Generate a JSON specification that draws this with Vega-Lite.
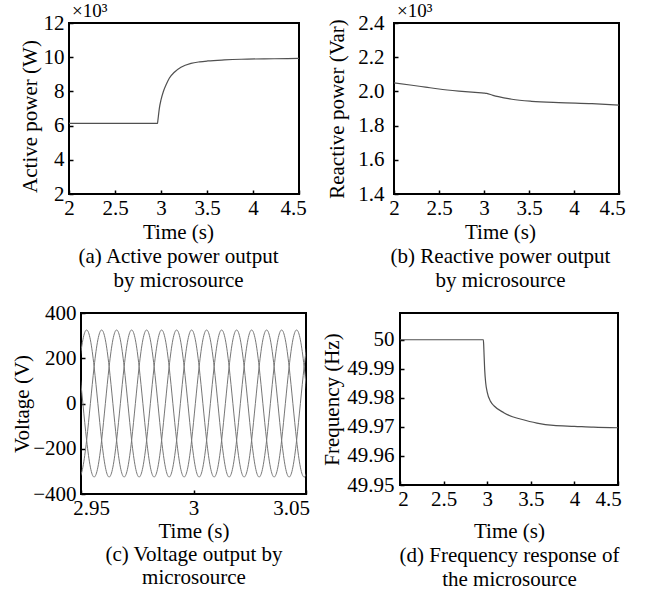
{
  "$schema": "https://vega.github.io/schema/vega-lite/v6.json",
  "padding": {"left": 0, "top": 1, "right": 5, "bottom": 4},
  "background": "white",
  "spacing": 10,
  "config": {
    "font": "Liberation Serif",
    "view": {"stroke": "black", "strokeWidth": 2},
    "axis": {"domain": false, "grid": false, "ticks": true, "tickColor": "black", "tickWidth": 1.5, "tickSize": -4,
      "labelFont": "Liberation Serif", "labelFontSize": 21, "labelColor": "black", "labelPadding": 7, "labelOverlap": false, "labelFlush": false,
      "titleFont": "Liberation Serif", "titleFontSize": 21, "titleFontWeight": "normal", "titleColor": "black", "titlePadding": 3},
    "axisY": {"labelPadding": 9},
    "title": {"font": "Liberation Serif", "fontSize": 19, "fontWeight": "normal", "color": "black", "anchor": "start", "frame": "group", "offset": -9}
  },
  "vconcat": [
    {
      "spacing": 17,
      "hconcat": [
        {"width": 1, "height": 1, "data": {"values": []}, "mark": "point", "view": {"stroke": null}},
        {
          "width": 230, "height": 171,
          "title": {"text": "×10³", "dx": 3},
          "data": {"values": [
            {"t": 2, "p": 6.13}, {"t": 2.5, "p": 6.13}, {"t": 2.962, "p": 6.13}, {"t": 2.966, "p": 6.3},
            {"t": 2.971, "p": 6.52}, {"t": 2.982, "p": 7.01}, {"t": 3.0, "p": 7.5}, {"t": 3.025, "p": 7.98},
            {"t": 3.054, "p": 8.37}, {"t": 3.09, "p": 8.77}, {"t": 3.145, "p": 9.12}, {"t": 3.217, "p": 9.41},
            {"t": 3.326, "p": 9.64}, {"t": 3.42, "p": 9.73}, {"t": 3.508, "p": 9.78}, {"t": 3.688, "p": 9.84},
            {"t": 3.87, "p": 9.88}, {"t": 4.232, "p": 9.91}, {"t": 4.5, "p": 9.93}
          ]},
          "mark": {"type": "line", "interpolate": "monotone", "color": "#505050", "strokeWidth": 1.2},
          "encoding": {
            "x": {"field": "t", "type": "quantitative", "scale": {"domain": [2, 4.5], "nice": false, "zero": false},
              "axis": {"values": [2, 2.5, 3, 3.5, 4, 4.5], "format": "~g",
                "labelOffset": {"condition": {"test": "datum.value == 4.5", "value": -6}, "value": 0},
                "title": ["Time (s)", "(a) Active power output", "by microsource"], "titleLineHeight": 24, "titleX": 109}},
            "y": {"field": "p", "type": "quantitative", "scale": {"domain": [2, 12], "nice": false, "zero": false},
              "axis": {"values": [2, 4, 6, 8, 10, 12], "title": "Active power (W)", "titlePadding": 3, "titleY": 93}}
          }
        },
        {
          "width": 225, "height": 171,
          "title": {"text": "×10³", "dx": 3},
          "data": {"values": [
            {"t": 2, "q": 2.05}, {"t": 2.2, "q": 2.036}, {"t": 2.35, "q": 2.025}, {"t": 2.5, "q": 2.014},
            {"t": 2.72, "q": 2.002}, {"t": 2.9, "q": 1.994}, {"t": 3.0, "q": 1.99}, {"t": 3.03, "q": 1.988},
            {"t": 3.1, "q": 1.977}, {"t": 3.16, "q": 1.969}, {"t": 3.31, "q": 1.954}, {"t": 3.53, "q": 1.942},
            {"t": 3.83, "q": 1.934}, {"t": 4.2, "q": 1.928}, {"t": 4.5, "q": 1.92}
          ]},
          "mark": {"type": "line", "interpolate": "monotone", "color": "#505050", "strokeWidth": 1.2},
          "encoding": {
            "x": {"field": "t", "type": "quantitative", "scale": {"domain": [2, 4.5], "nice": false, "zero": false},
              "axis": {"values": [2, 2.5, 3, 3.5, 4, 4.5], "format": "~g",
                "labelOffset": {"condition": {"test": "datum.value == 4.5", "value": -7}, "value": 0},
                "title": ["Time (s)", "(b) Reactive power output", "by microsource"], "titleLineHeight": 24, "titleX": 106}},
            "y": {"field": "q", "type": "quantitative", "scale": {"domain": [1.4, 2.4], "nice": false, "zero": false},
              "axis": {"values": [1.4, 1.6, 1.8, 2.0, 2.2, 2.4], "format": ".1f", "labelPadding": 14, "title": "Reactive power (Var)", "titlePadding": 10}}
          }
        }
      ]
    },
    {
      "spacing": 9,
      "hconcat": [
        {"width": 1, "height": 1, "data": {"values": []}, "mark": "point", "view": {"stroke": null}},
        {
          "width": 225, "height": 181,
          "data": {"values": [
            {"t": 2.9475, "a": 0, "b": -281.5, "c": 281.5},
            {"t": 2.94917, "a": 162.5, "b": -325, "c": 162.5},
            {"t": 2.95083, "a": 281.5, "b": -281.5, "c": 0},
            {"t": 2.9525, "a": 325, "b": -162.5, "c": -162.5},
            {"t": 2.95417, "a": 281.5, "b": 0, "c": -281.5},
            {"t": 2.95583, "a": 162.5, "b": 162.5, "c": -325},
            {"t": 2.9575, "a": 0, "b": 281.5, "c": -281.5},
            {"t": 2.95917, "a": -162.5, "b": 325, "c": -162.5},
            {"t": 2.96083, "a": -281.5, "b": 281.5, "c": 0},
            {"t": 2.9625, "a": -325, "b": 162.5, "c": 162.5},
            {"t": 2.96417, "a": -281.5, "b": 0, "c": 281.5},
            {"t": 2.96583, "a": -162.5, "b": -162.5, "c": 325},
            {"t": 2.9675, "a": 0, "b": -281.5, "c": 281.5},
            {"t": 2.96917, "a": 162.5, "b": -325, "c": 162.5},
            {"t": 2.97083, "a": 281.5, "b": -281.5, "c": 0},
            {"t": 2.9725, "a": 325, "b": -162.5, "c": -162.5},
            {"t": 2.97417, "a": 281.5, "b": 0, "c": -281.5},
            {"t": 2.97583, "a": 162.5, "b": 162.5, "c": -325},
            {"t": 2.9775, "a": 0, "b": 281.5, "c": -281.5},
            {"t": 2.97917, "a": -162.5, "b": 325, "c": -162.5},
            {"t": 2.98083, "a": -281.5, "b": 281.5, "c": 0},
            {"t": 2.9825, "a": -325, "b": 162.5, "c": 162.5},
            {"t": 2.98417, "a": -281.5, "b": 0, "c": 281.5},
            {"t": 2.98583, "a": -162.5, "b": -162.5, "c": 325},
            {"t": 2.9875, "a": 0, "b": -281.5, "c": 281.5},
            {"t": 2.98917, "a": 162.5, "b": -325, "c": 162.5},
            {"t": 2.99083, "a": 281.5, "b": -281.5, "c": 0},
            {"t": 2.9925, "a": 325, "b": -162.5, "c": -162.5},
            {"t": 2.99417, "a": 281.5, "b": 0, "c": -281.5},
            {"t": 2.99583, "a": 162.5, "b": 162.5, "c": -325},
            {"t": 2.9975, "a": 0, "b": 281.5, "c": -281.5},
            {"t": 2.99917, "a": -162.5, "b": 325, "c": -162.5},
            {"t": 3.00083, "a": -281.5, "b": 281.5, "c": 0},
            {"t": 3.0025, "a": -325, "b": 162.5, "c": 162.5},
            {"t": 3.00417, "a": -281.5, "b": 0, "c": 281.5},
            {"t": 3.00583, "a": -162.5, "b": -162.5, "c": 325},
            {"t": 3.0075, "a": 0, "b": -281.5, "c": 281.5},
            {"t": 3.00917, "a": 162.5, "b": -325, "c": 162.5},
            {"t": 3.01083, "a": 281.5, "b": -281.5, "c": 0},
            {"t": 3.0125, "a": 325, "b": -162.5, "c": -162.5},
            {"t": 3.01417, "a": 281.5, "b": 0, "c": -281.5},
            {"t": 3.01583, "a": 162.5, "b": 162.5, "c": -325},
            {"t": 3.0175, "a": 0, "b": 281.5, "c": -281.5},
            {"t": 3.01917, "a": -162.5, "b": 325, "c": -162.5},
            {"t": 3.02083, "a": -281.5, "b": 281.5, "c": 0},
            {"t": 3.0225, "a": -325, "b": 162.5, "c": 162.5},
            {"t": 3.02417, "a": -281.5, "b": 0, "c": 281.5},
            {"t": 3.02583, "a": -162.5, "b": -162.5, "c": 325},
            {"t": 3.0275, "a": 0, "b": -281.5, "c": 281.5},
            {"t": 3.02917, "a": 162.5, "b": -325, "c": 162.5},
            {"t": 3.03083, "a": 281.5, "b": -281.5, "c": 0},
            {"t": 3.0325, "a": 325, "b": -162.5, "c": -162.5},
            {"t": 3.03417, "a": 281.5, "b": 0, "c": -281.5},
            {"t": 3.03583, "a": 162.5, "b": 162.5, "c": -325},
            {"t": 3.0375, "a": 0, "b": 281.5, "c": -281.5},
            {"t": 3.03917, "a": -162.5, "b": 325, "c": -162.5},
            {"t": 3.04083, "a": -281.5, "b": 281.5, "c": 0},
            {"t": 3.0425, "a": -325, "b": 162.5, "c": 162.5},
            {"t": 3.04417, "a": -281.5, "b": 0, "c": 281.5},
            {"t": 3.04583, "a": -162.5, "b": -162.5, "c": 325},
            {"t": 3.0475, "a": 0, "b": -281.5, "c": 281.5},
            {"t": 3.04917, "a": 162.5, "b": -325, "c": 162.5},
            {"t": 3.05083, "a": 281.5, "b": -281.5, "c": 0},
            {"t": 3.0525, "a": 325, "b": -162.5, "c": -162.5}
          ]},
          "transform": [{"fold": ["a", "b", "c"], "as": ["phase", "v"]}],
          "mark": {"type": "line", "interpolate": "natural", "color": "#777777", "strokeWidth": 1, "clip": true},
          "encoding": {
            "x": {"field": "t", "type": "quantitative", "scale": {"domain": [2.95, 3.05], "nice": false, "zero": false},
              "axis": {"values": [2.95, 3, 3.05], "format": "~g",
                "labelOffset": {"condition": [{"test": "datum.value < 2.99", "value": 10}, {"test": "datum.value > 3.01", "value": -15}], "value": 0},
                "title": ["Time (s)", "(c) Voltage output by", "microsource"], "titleLineHeight": 23, "titlePadding": 2}},
            "y": {"field": "v", "type": "quantitative", "scale": {"domain": [-400, 400], "nice": false, "zero": false},
              "axis": {"values": [-400, -200, 0, 200, 400], "title": "Voltage (V)", "titlePadding": 0}},
            "detail": {"field": "phase"}
          }
        },
        {
          "width": 218, "height": 172,
          "data": {"values": [
            {"t": 2, "f": 50}, {"t": 2.956, "f": 50}, {"t": 2.96, "f": 49.998}, {"t": 2.963, "f": 49.9957},
            {"t": 2.971, "f": 49.9898}, {"t": 2.983, "f": 49.9851}, {"t": 3.0, "f": 49.982}, {"t": 3.04, "f": 49.9787},
            {"t": 3.08, "f": 49.9772}, {"t": 3.19, "f": 49.9749}, {"t": 3.29, "f": 49.9735}, {"t": 3.38, "f": 49.9727},
            {"t": 3.57, "f": 49.9713}, {"t": 3.76, "f": 49.9705}, {"t": 4.0, "f": 49.9702}, {"t": 4.22, "f": 49.9699},
            {"t": 4.5, "f": 49.9697}
          ]},
          "mark": {"type": "line", "interpolate": "monotone", "color": "#505050", "strokeWidth": 1.2},
          "encoding": {
            "x": {"field": "t", "type": "quantitative", "scale": {"domain": [2, 4.5], "nice": false, "zero": false},
              "axis": {"values": [2, 2.5, 3, 3.5, 4, 4.5], "format": "~g",
                "labelOffset": {"condition": [{"test": "datum.value == 2", "value": 3}, {"test": "datum.value == 4.5", "value": -10}], "value": 0},
                "title": ["Time (s)", "(d) Frequency response of", "the microsource"], "titleLineHeight": 24, "titlePadding": 11}},
            "y": {"field": "f", "type": "quantitative", "scale": {"domain": [49.95, 50.0092], "nice": false, "zero": false},
              "axis": {"values": [49.95, 49.96, 49.97, 49.98, 49.99, 50], "format": "~g", "labelPadding": 10, "title": "Frequency (Hz)", "titlePadding": 4}}
          }
        }
      ]
    }
  ]
}
